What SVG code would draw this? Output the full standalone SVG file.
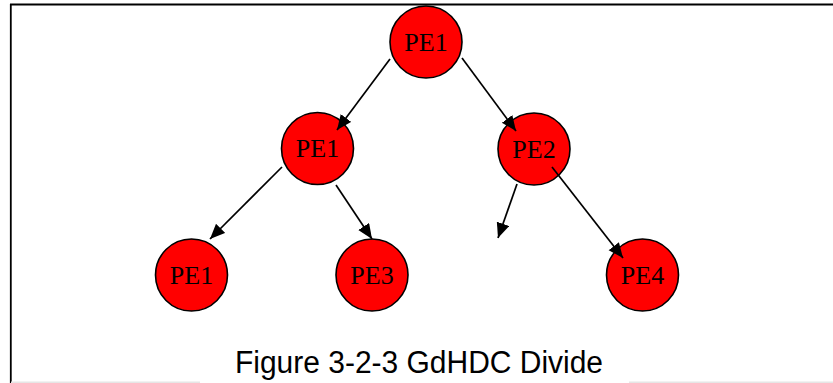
<svg xmlns="http://www.w3.org/2000/svg" width="833" height="383" viewBox="0 0 833 383">
  <style>
    .pe circle { fill: #ff0000; stroke: #000; stroke-width: 1.6; }
    .pe text { font-family: "Liberation Serif", "Times New Roman", serif; font-size: 26px; fill: #000; text-anchor: middle; }
    .edge { stroke: #000; stroke-width: 1.7; fill: none; marker-end: url(#head); }
    .caption { font-family: "Liberation Sans", Arial, sans-serif; font-size: 31px; fill: #000; }
  </style>
  <defs>
    <marker id="head" markerUnits="userSpaceOnUse" markerWidth="16" markerHeight="14" refX="15" refY="6.5" orient="auto">
      <path d="M0,0 L15,6.5 L0,13 z" fill="#000"/>
    </marker>
  </defs>

  <rect x="0" y="0" width="833" height="383" fill="#fff"/>

  <!-- frame -->
  <g id="frame">
    <line x1="10" y1="4.5" x2="833" y2="4.5" stroke="#000" stroke-width="2.2"/>
    <line x1="10.8" y1="4" x2="10.8" y2="383" stroke="#000" stroke-width="1.8"/>
    <line x1="11" y1="382.2" x2="200" y2="382.2" stroke="#e6e6e6" stroke-width="1.6"/>
    <line x1="629" y1="382.2" x2="833" y2="382.2" stroke="#e6e6e6" stroke-width="1.6"/>
  </g>

  <!-- nodes -->
  <g id="root-pe1" class="pe">
    <circle cx="426" cy="42" r="36"/>
    <text x="426" y="50.5">PE1</text>
  </g>
  <g id="mid-pe1" class="pe">
    <circle cx="317.5" cy="148.5" r="36"/>
    <text x="317.5" y="157">PE1</text>
  </g>
  <g id="mid-pe2" class="pe">
    <circle cx="534" cy="149" r="36"/>
    <text x="534" y="157.5">PE2</text>
  </g>
  <g id="leaf-pe1" class="pe">
    <circle cx="191.5" cy="275" r="36"/>
    <text x="191.5" y="283.5">PE1</text>
  </g>
  <g id="leaf-pe3" class="pe">
    <circle cx="372" cy="275" r="36"/>
    <text x="372" y="283.5">PE3</text>
  </g>
  <g id="leaf-pe4" class="pe">
    <circle cx="642.5" cy="275" r="36"/>
    <text x="642.5" y="283.5">PE4</text>
  </g>

  <!-- connectors, drawn over the nodes so the heads stay visible -->
  <g id="connectors">
    <line class="edge" x1="390" y1="59" x2="337" y2="130"/>
    <line class="edge" x1="462" y1="58" x2="516" y2="131"/>
    <line class="edge" x1="282" y1="167" x2="210" y2="239"/>
    <line class="edge" x1="336" y1="185" x2="372" y2="239"/>
    <line class="edge" x1="517" y1="184" x2="498" y2="238"/>
    <line class="edge" x1="552" y1="167" x2="623" y2="258"/>
  </g>

  <text class="caption" x="235" y="373" textLength="368" lengthAdjust="spacingAndGlyphs">Figure 3-2-3 GdHDC Divide</text>
</svg>
